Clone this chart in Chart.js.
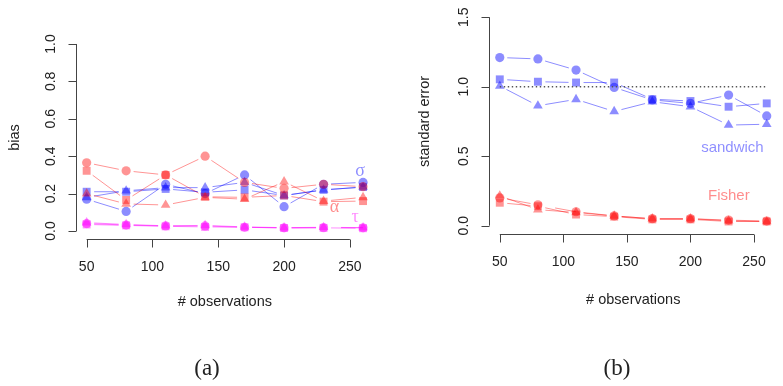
<!DOCTYPE html>
<html><head><meta charset="utf-8">
<script src="https://cdn.jsdelivr.net/npm/chart.js@4.4.1/dist/chart.umd.min.js"></script>
<style>
html,body{margin:0;padding:0;background:#fff;width:783px;height:386px;overflow:hidden;}
#ca{position:absolute;left:0;top:0;}
#cb{position:absolute;left:390px;top:0;}
.cap{position:absolute;top:354px;line-height:28px;font-family:"Liberation Serif",serif;font-size:23px;color:#222;transform:translateX(-50%);}
</style></head><body>
<canvas id="ca" width="390" height="386"></canvas>
<canvas id="cb" width="393" height="386"></canvas>
<div class="cap" style="left:207px">(a)</div>
<div class="cap" style="left:617px">(b)</div>
<script>
// ---- data ----
const obs = [50, 80, 110, 140, 170, 200, 230, 260];

// panel (a): bias
const biasAlphaCircle   = [0.365, 0.322, 0.300, 0.400, 0.260, 0.228, 0.250, 0.237];
const biasAlphaSquare   = [0.322, 0.166, 0.300, 0.183, 0.180, 0.190, 0.157, 0.160];
const biasAlphaTriangle = [0.200, 0.145, 0.139, 0.180, 0.170, 0.264, 0.160, 0.180];
const biasSigmaCircle   = [0.170, 0.105, 0.250, 0.200, 0.300, 0.130, 0.250, 0.260];
const biasSigmaSquare   = [0.210, 0.210, 0.225, 0.207, 0.220, 0.190, 0.220, 0.235];
const biasSigmaTriangle = [0.180, 0.215, 0.232, 0.232, 0.260, 0.190, 0.220, 0.235];
const biasTauCircle     = [0.040, 0.032, 0.027, 0.027, 0.020, 0.017, 0.018, 0.017];
const biasTauSquare     = [0.035, 0.030, 0.025, 0.022, 0.020, 0.016, 0.017, 0.015];
const biasTauTriangle   = [0.045, 0.035, 0.028, 0.030, 0.022, 0.018, 0.020, 0.018];

// panel (b): standard error
const seSandwichCircle   = [1.210, 1.200, 1.120, 0.995, 0.905, 0.880, 0.940, 0.790];
const seSandwichSquare   = [1.053, 1.036, 1.030, 1.030, 0.910, 0.897, 0.856, 0.880];
const seSandwichTriangle = [1.005, 0.863, 0.909, 0.822, 0.892, 0.856, 0.724, 0.730];
const seFisherCircle     = [0.200, 0.150, 0.100, 0.070, 0.050, 0.050, 0.040, 0.033];
const seFisherSquare     = [0.165, 0.140, 0.080, 0.065, 0.045, 0.045, 0.030, 0.030];
const seFisherTriangle   = [0.215, 0.115, 0.095, 0.070, 0.050, 0.050, 0.035, 0.030];
const seReference = 1.0;

// ticks and labels
const xTicks = [50, 100, 150, 200, 250];
const biasYTicks = [0, 0.2, 0.4, 0.6, 0.8, 1.0];
const seYTicks = [0, 0.5, 1.0, 1.5];
const xTitle = '# observations';
const biasTitle = 'bias';
const seTitle = 'standard error';
const biasNotes = [
  {text: 'σ', x: 257.7, y: 0.322, color: 'rgba(0,0,255,0.45)'},
  {text: 'α', x: 238.2, y: 0.127, color: 'rgba(255,0,0,0.45)'},
  {text: 'τ', x: 253.9, y: 0.076, color: 'rgba(255,0,255,0.45)'}
];
const seNotes = [
  {text: 'sandwich', x: 233, y: 0.559, color: 'rgba(0,0,255,0.45)'},
  {text: 'Fisher', x: 230.2, y: 0.214, color: 'rgba(255,0,0,0.45)'}
];

// ---- helpers ----
const RED = 'rgba(255,0,0,0.42)', BLUE = 'rgba(0,0,255,0.45)', MAG = 'rgba(255,0,255,0.45)';
const SANS = '"Liberation Sans", Arial, sans-serif';
const GAP = 7.5; // R type="b": line stops short of each point

function gapDash(c) {
  const dx = c.p1.x - c.p0.x, dy = c.p1.y - c.p0.y;
  const len = Math.sqrt(dx * dx + dy * dy);
  if (len <= 2 * GAP + 1) return [0, len + 10];
  return [0, GAP, len - 2 * GAP, GAP + 10];
}

function ds(arr, color, style) {
  const r = style === 'circle' ? 4.6 : 5.6;
  return {
    data: obs.map((x, i) => ({x: x, y: arr[i]})),
    showLine: true, borderColor: color, backgroundColor: color, borderWidth: 1,
    segment: {borderDash: gapDash},
    pointStyle: style, pointRadius: r, pointBorderWidth: 0, pointBackgroundColor: color,
    pointBorderColor: 'rgba(0,0,0,0)', tension: 0, clip: false
  };
}

function axesPlugin(o) {
  return {
    id: 'rAxes',
    afterDraw(chart) {
      const ctx = chart.ctx, xs = chart.scales.x, ys = chart.scales.y, ca = chart.chartArea;
      ctx.save();
      ctx.strokeStyle = '#444'; ctx.lineWidth = 1; ctx.fillStyle = '#222';
      // x axis
      const yAx = Math.round(ca.bottom) + 0.5;
      ctx.beginPath();
      ctx.moveTo(xs.getPixelForValue(xTicks[0]), yAx);
      ctx.lineTo(xs.getPixelForValue(xTicks[xTicks.length - 1]), yAx);
      xTicks.forEach(v => { const p = Math.round(xs.getPixelForValue(v)) + 0.5; ctx.moveTo(p, yAx); ctx.lineTo(p, yAx + 8); });
      // y axis
      const xAx = Math.round(ca.left) + 0.5;
      ctx.moveTo(xAx, ys.getPixelForValue(o.yTicks[0]));
      ctx.lineTo(xAx, ys.getPixelForValue(o.yTicks[o.yTicks.length - 1]));
      o.yTicks.forEach(v => { const p = Math.round(ys.getPixelForValue(v)) + 0.5; ctx.moveTo(xAx, p); ctx.lineTo(xAx - 8, p); });
      ctx.stroke();
      // tick labels
      ctx.font = '14px ' + SANS; ctx.textAlign = 'center'; ctx.textBaseline = 'middle';
      xTicks.forEach(v => ctx.fillText(String(v), xs.getPixelForValue(v), yAx + 28));
      o.yTicks.forEach(v => {
        ctx.save(); ctx.translate(xAx - 25.5, ys.getPixelForValue(v)); ctx.rotate(-Math.PI / 2);
        ctx.fillText(v.toFixed(1), 0, 0); ctx.restore();
      });
      // titles
      ctx.font = '14.5px ' + SANS;
      ctx.fillText(xTitle, (ca.left + ca.right) / 2, o.xTitleY);
      ctx.save(); ctx.translate(o.yTitleX, (ca.top + ca.bottom) / 2); ctx.rotate(-Math.PI / 2);
      ctx.fillText(o.yTitle, 0, 0); ctx.restore();
      // reference line
      if (o.refLine !== undefined) {
        ctx.strokeStyle = '#555'; ctx.lineWidth = 1.4; ctx.setLineDash([1.4, 2.6]);
        const py = ys.getPixelForValue(o.refLine);
        ctx.beginPath(); ctx.moveTo(xs.getPixelForValue(obs[0]), py); ctx.lineTo(xs.getPixelForValue(obs[obs.length - 1]), py); ctx.stroke();
        ctx.setLineDash([]);
      }
      // annotations
      o.notes.forEach(n => {
        ctx.fillStyle = n.color;
        ctx.font = o.noteFont;
        ctx.fillText(n.text, xs.getPixelForValue(n.x), ys.getPixelForValue(n.y));
      });
      ctx.restore();
    }
  };
}

function makeChart(id, datasets, xr, yr, pad, plugOpts) {
  return new Chart(document.getElementById(id), {
    type: 'scatter',
    data: {datasets: datasets},
    options: {
      responsive: false, animation: false, devicePixelRatio: 1,
      layout: {padding: pad},
      plugins: {legend: {display: false}, tooltip: {enabled: false}},
      scales: {
        x: {type: 'linear', min: xr[0], max: xr[1], display: false},
        y: {type: 'linear', min: yr[0], max: yr[1], display: false}
      }
    },
    plugins: [axesPlugin(plugOpts)]
  });
}

makeChart('ca', [
  ds(biasAlphaCircle, RED, 'circle'), ds(biasAlphaSquare, RED, 'rect'), ds(biasAlphaTriangle, RED, 'triangle'),
  ds(biasSigmaCircle, BLUE, 'circle'), ds(biasSigmaSquare, BLUE, 'rect'), ds(biasSigmaTriangle, BLUE, 'triangle'),
  ds(biasTauCircle, MAG, 'circle'), ds(biasTauSquare, MAG, 'rect'), ds(biasTauTriangle, MAG, 'triangle')
], [41.6, 268.4], [-0.04, 1.04], {left: 75.6, right: 15.9, top: 36.5, bottom: 147.5},
  {yTicks: biasYTicks, yTitle: biasTitle, xTitleY: 302, yTitleX: 15, notes: biasNotes, noteFont: '18px "Liberation Serif", serif'});

makeChart('cb', [
  ds(seSandwichCircle, BLUE, 'circle'), ds(seSandwichSquare, BLUE, 'rect'), ds(seSandwichTriangle, BLUE, 'triangle'),
  ds(seFisherCircle, RED, 'circle'), ds(seFisherSquare, RED, 'rect'), ds(seFisherTriangle, RED, 'triangle')
], [41.6, 268.4], [-0.06, 1.56], {left: 99.1, right: 0.2, top: 8.9, bottom: 152},
  {yTicks: seYTicks, yTitle: seTitle, xTitleY: 300, yTitleX: 35, notes: seNotes, noteFont: '15px ' + SANS, refLine: seReference});
</script>
</body></html>
